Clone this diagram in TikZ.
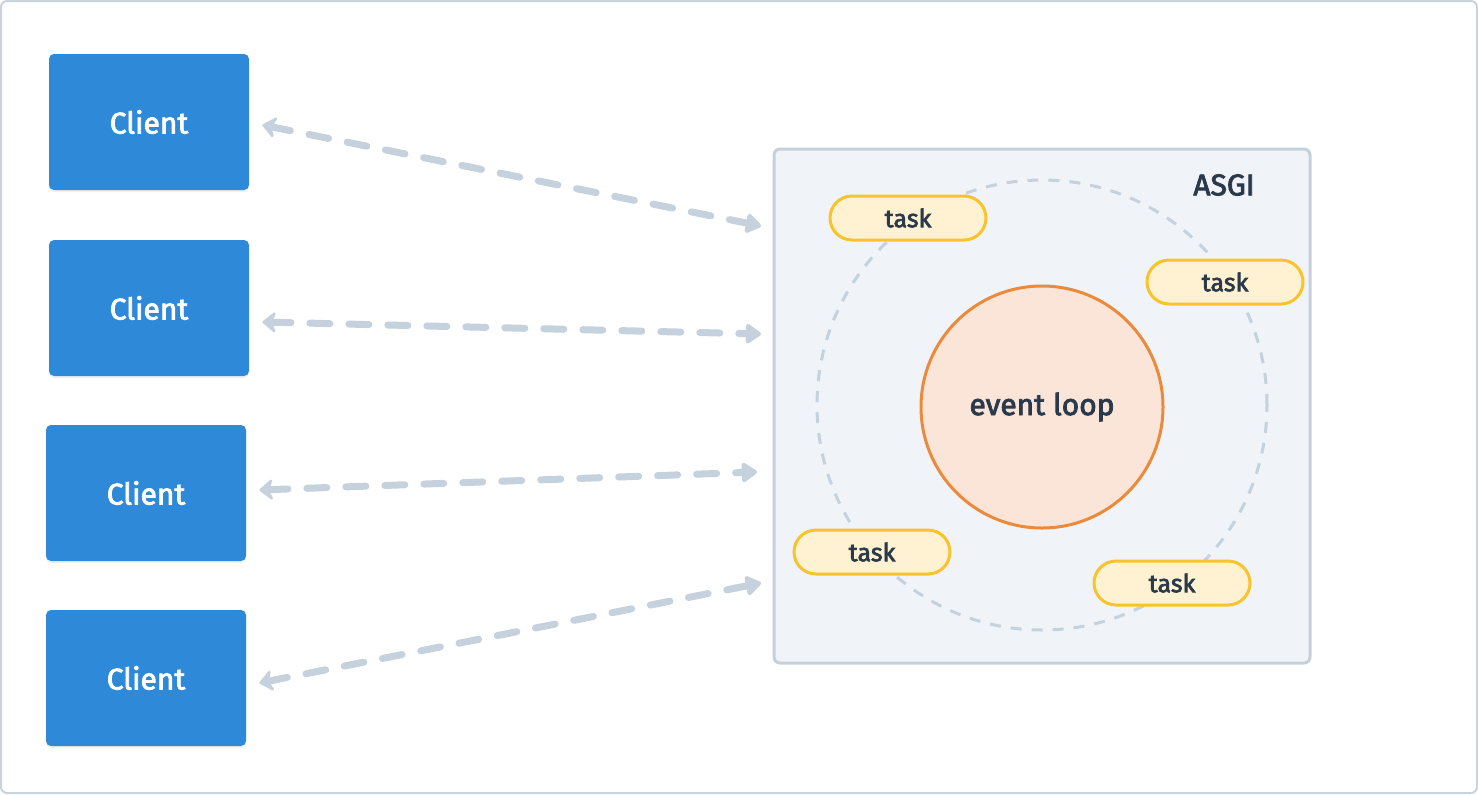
\documentclass[tikz,border=0pt]{standalone}
\usepackage{fontspec}
\setmainfont{Fira Sans}[FakeBold=2.6]
\usetikzlibrary{arrows.meta,shadows}
\definecolor{clientblue}{HTML}{2E89D9}
\definecolor{connc}{HTML}{C5D1DC}
\definecolor{frame}{HTML}{C9D3DC}
\definecolor{asgifill}{HTML}{F0F4F8}
\definecolor{asgiline}{HTML}{C5D0DA}
\definecolor{taskfill}{HTML}{FEF2D2}
\definecolor{taskline}{HTML}{F8C32C}
\definecolor{loopfill}{HTML}{FAE5D8}
\definecolor{loopline}{HTML}{EC8A3C}
\definecolor{txt}{HTML}{2B3A4A}
\begin{document}
\begin{tikzpicture}[x=0.5pt,y=-0.5pt,
  clientbox/.style={fill=clientblue, rounded corners=2.5pt, minimum width=100pt, minimum height=68pt,
    text=white, font=\fontsize{15}{18}\selectfont, inner sep=0pt,
    drop shadow={opacity=0.12, shadow xshift=0pt, shadow yshift=-1pt}},
  taskpill/.style={draw=taskline, fill=taskfill, line width=1.5pt, rounded corners=11pt,
    minimum width=78pt, minimum height=22pt, inner sep=0pt, text=txt, font=\fontsize{12.5}{15}\selectfont},
  conn/.style={draw=connc, line width=3.5pt, line cap=round, dash pattern=on 10pt off 9.5pt,
    {Stealth[length=8pt,width=13pt,round,inset=3pt]}-{Triangle[length=8.5pt,width=11pt,round]}},
]
\useasboundingbox (0,0) rectangle (1478,794);
\draw[frame, line width=1pt, rounded corners=3pt] (1,1) rectangle (1477,793);

% ASGI box
\node[draw=asgiline, fill=asgifill, line width=1.5pt, rounded corners=3pt,
  minimum width=268pt, minimum height=257pt, inner sep=0pt] (asgi) at (1042,406) {};
\node[text=txt, font=\fontsize{15}{18}\selectfont] (asgilabel) at (1224,185) {ASGI};

% dashed orbit
\draw[connc, line width=1.5pt, dash pattern=on 5.5pt off 5pt] (1042,405) circle [radius=112.5pt];

% event loop
\node[circle, draw=loopline, fill=loopfill, line width=1.5pt, minimum size=121pt, inner sep=0pt,
  text=txt, font=\fontsize{15}{18}\selectfont] (loop) at (1042,407) {event loop};

% tasks
\node[taskpill] (t1) at (908,218) {task};
\node[taskpill] (t2) at (1225,282) {task};
\node[taskpill] (t3) at (872,552) {task};
\node[taskpill] (t4) at (1172,583) {task};

% clients
\node[clientbox] (c1) at (149,122) {Client};
\node[clientbox] (c2) at (149,308) {Client};
\node[clientbox] (c3) at (146,493) {Client};
\node[clientbox] (c4) at (146,678) {Client};

% connector ends
\coordinate (e1) at (761,226);
\coordinate (e2) at (761,334);
\coordinate (e3) at (757,472);
\coordinate (e4) at (761,583);

\draw[conn] ([xshift=6.5pt,yshift=-1.5pt]c1.east) -- (e1);
\draw[conn] ([xshift=6.5pt,yshift=-7pt]c2.east) -- (e2);
\draw[conn] ([xshift=6.5pt,yshift=1.5pt]c3.east) -- (e3);
\draw[conn] ([xshift=6.5pt,yshift=-2.5pt]c4.east) -- (e4);
\end{tikzpicture}
\end{document}
